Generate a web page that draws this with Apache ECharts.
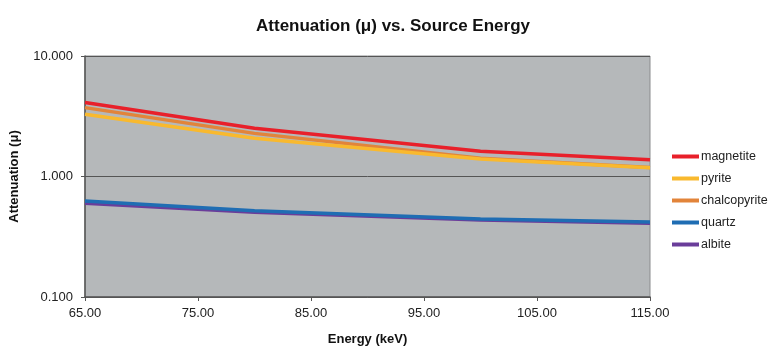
<!DOCTYPE html>
<html>
<head>
<meta charset="utf-8">
<script src="https://cdn.jsdelivr.net/npm/echarts@6/dist/echarts.min.js"></script>
<style>
  html, body { margin: 0; padding: 0; background: #fff; }
  #chart { width: 768px; height: 351px; }
</style>
</head>
<body>
<div id="chart"></div>
<script>
// energies (keV) where the curves were measured
var energies = [65, 80, 100, 115];

var magnetite    = [4.12, 2.51, 1.62, 1.38];
var pyrite       = [3.28, 2.08, 1.40, 1.18];
var chalcopyrite = [3.73, 2.28, 1.42, 1.19];
var quartz       = [0.625, 0.52, 0.444, 0.42];
var albite       = [0.60, 0.505, 0.435, 0.41];

var names  = ['magnetite', 'pyrite', 'chalcopyrite', 'quartz', 'albite'];
var values = [magnetite, pyrite, chalcopyrite, quartz, albite];
var colors = ['#e8202a', '#f9b92e', '#e2843a', '#1f6db3', '#6a3d9a'];

var myChart = echarts.init(document.getElementById('chart'));

function pairs(arr) {
  return energies.map(function (e, i) { return [e, arr[i]]; });
}

var series = names.map(function (n, i) {
  return {
    name: n,
    type: 'line',
    data: pairs(values[i]),
    showSymbol: false,
    symbol: 'none',
    color: colors[i],
    lineStyle: { width: 3.5, color: colors[i] },
    z: 10 - i
  };
});

var option = {
  backgroundColor: '#fff',
  animation: false,
  textStyle: { fontFamily: 'Liberation Sans, Arial, sans-serif' },
  title: {
    text: 'Attenuation (μ) vs. Source Energy',
    left: 388,
    textAlign: 'center',
    top: 13,
    textStyle: { fontSize: 17, fontWeight: 'bold', color: '#111' }
  },
  legend: {
    orient: 'vertical',
    left: 672,
    top: 150,
    padding: 0,
    itemGap: 9,
    itemWidth: 27,
    itemHeight: 4,
    icon: 'rect',
    data: names,
    textStyle: { fontSize: 12.5, color: '#222', padding: [0, 0, 0, -3] }
  },
  grid: {
    left: 85,
    right: 118,
    top: 56,
    bottom: 51,
    show: true,
    backgroundColor: '#b5b8ba',
    borderColor: '#8a8c8e',
    borderWidth: 1
  },
  xAxis: {
    type: 'value',
    min: 65,
    max: 115,
    interval: 10,
    name: 'Energy (keV)',
    nameLocation: 'center',
    nameGap: 36,
    nameTextStyle: { fontSize: 13, fontWeight: 'bold', color: '#111' },
    axisLine: { lineStyle: { color: '#555', width: 1.5 } },
    axisTick: { show: true, length: 4, lineStyle: { color: '#555' } },
    axisLabel: {
      fontSize: 13, color: '#222', margin: 10,
      formatter: function (v) { return v.toFixed(2); }
    },
    splitLine: { show: false }
  },
  yAxis: {
    type: 'log',
    logBase: 10,
    min: 0.1,
    max: 10,
    name: 'Attenuation (μ)',
    nameLocation: 'center',
    nameGap: 64,
    nameTextStyle: { fontSize: 13, fontWeight: 'bold', color: '#111' },
    axisLine: { show: true, lineStyle: { color: '#555', width: 1.5 } },
    axisTick: { show: true, length: 4, lineStyle: { color: '#555' } },
    axisLabel: {
      fontSize: 13, color: '#222', margin: 12,
      formatter: function (v) { return Number(v).toFixed(3); }
    },
    minorTick: { show: false },
    splitLine: { show: true, lineStyle: { color: '#555', width: 1 } }
  },
  series: series
};

myChart.setOption(option);
</script>
</body>
</html>
